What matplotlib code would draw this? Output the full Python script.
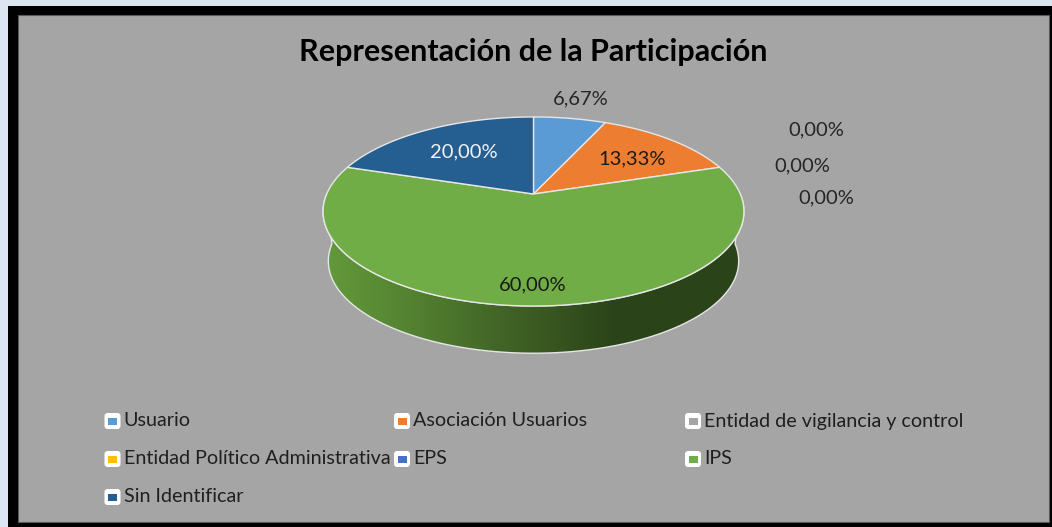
import numpy as np
import matplotlib
matplotlib.use("Agg")
import matplotlib.pyplot as plt
from matplotlib.patches import Polygon, Rectangle, FancyBboxPatch

plt.rcParams['font.family'] = ['Lato', 'DejaVu Sans']

categories = ["Usuario", "Asociación Usuarios", "Entidad de vigilancia y control",
              "Entidad Político Administrativa", "EPS", "IPS", "Sin Identificar"]
values = [6.67, 13.33, 0.0, 0.0, 0.0, 60.0, 20.0]
value_labels = ["6,67%", "13,33%", "0,00%", "0,00%", "0,00%", "60,00%", "20,00%"]
colors = ["#5b9bd5", "#ed7d31", "#a5a5a5", "#ffc000", "#4472c4", "#70ad47", "#255e91"]
title = "Representación de la Participación"

# label centres in pixels, and their text colours
label_pos = [(581, 99), (632, 159), (816, 130), (802, 166), (826, 198), (533, 285), (464, 152)]
label_col = ["#262626", "#1a1a1a", "#262626", "#262626", "#262626", "#1a1a1a", "#f2f2f2"]

# tilted pie geometry (pixels)
CX, CY = 533.5, 194
A, B, K = 206.8, 91.3, 0.185
WALL_SCALE = 0.975
WALL_DROP = 50


def project(theta, r=1.0, scale=1.0, drop=0.0):
    x = r * np.sin(theta)
    y = r * np.cos(theta)
    w = 1 + K * y
    return CX + scale * A * x / w, CY + drop - scale * B * y / w


fig = plt.figure(figsize=(10.52, 5.27), dpi=100, facecolor="#dce6f2")
ax = fig.add_axes([0, 0, 1, 1])
ax.set_xlim(0, 1052)
ax.set_ylim(527, 0)
ax.axis("off")

ax.add_patch(Rectangle((8, 6), 1044, 521, fc="black", ec="none"))
ax.add_patch(Rectangle((18, 15), 1031, 507, fc="#a5a5a5", ec="#595959", lw=0.8))

# side wall of the green slice, with a horizontal shade
t = np.linspace(np.pi / 2, 3 * np.pi / 2, 200)
tx, ty = project(t)
bx, by = project(t, scale=WALL_SCALE, drop=WALL_DROP)
wall = Polygon(np.r_[np.c_[tx, ty], np.c_[bx, by][::-1]], closed=True, fc="none",
               ec="#e6e6e6", lw=1.0, zorder=2)
ax.add_patch(wall)
stops_x = [323, 400, 500, 615, 744]
stops_c = np.array([matplotlib.colors.to_rgb(c) for c in
                    ["#639a3b", "#568532", "#426527", "#2b4319", "#2b4319"]])
gx = np.linspace(323, 744, 420)
grad = np.stack([np.interp(gx, stops_x, stops_c[:, i]) for i in range(3)], axis=-1)[None, :, :]
im = ax.imshow(grad, extent=(323, 744, 360, 190), aspect="auto", zorder=1.5)
im.set_clip_path(wall)
ax.set_xlim(0, 1052)
ax.set_ylim(527, 0)

# top face
start = 0.0
total = sum(values)
for val, col in zip(values, colors):
    if val == 0:
        continue
    end = start + val / total * 2 * np.pi
    th = np.linspace(start, end, 120)
    px, py = project(th)
    pts = np.r_[[[CX, CY]], np.c_[px, py]]
    ax.add_patch(Polygon(pts, closed=True, fc=col, ec="#e6e6e6", lw=1.0, zorder=3))
    start = end

for lab, (lx, ly), c in zip(value_labels, label_pos, label_col):
    ax.text(lx, ly, lab, ha="center", va="center", fontsize=14.5, color=c, zorder=5)

ax.text(533.5, 52, title, ha="center", va="center", fontsize=22, fontweight="bold",
        color="black")

# legend, three columns on a fixed grid
col_x = [112.5, 402, 693]
row_y = [421, 459, 497]
for i, (name, col) in enumerate(zip(categories, colors)):
    x0 = col_x[i % 3]
    y0 = row_y[i // 3]
    ax.add_patch(FancyBboxPatch((x0 - 6.5, y0 - 6.5), 13, 13, boxstyle="round,pad=1.5,rounding_size=3",
                                fc="white", ec="none", zorder=3))
    ax.add_patch(Rectangle((x0 - 4.5, y0 - 3.5), 9, 7, fc=col, ec="none", zorder=4))
    ax.text(x0 + 11, y0, name, ha="left", va="center", fontsize=14.2, color="#1f1f1f")

fig.savefig("out.png", dpi=100, facecolor=fig.get_facecolor())
